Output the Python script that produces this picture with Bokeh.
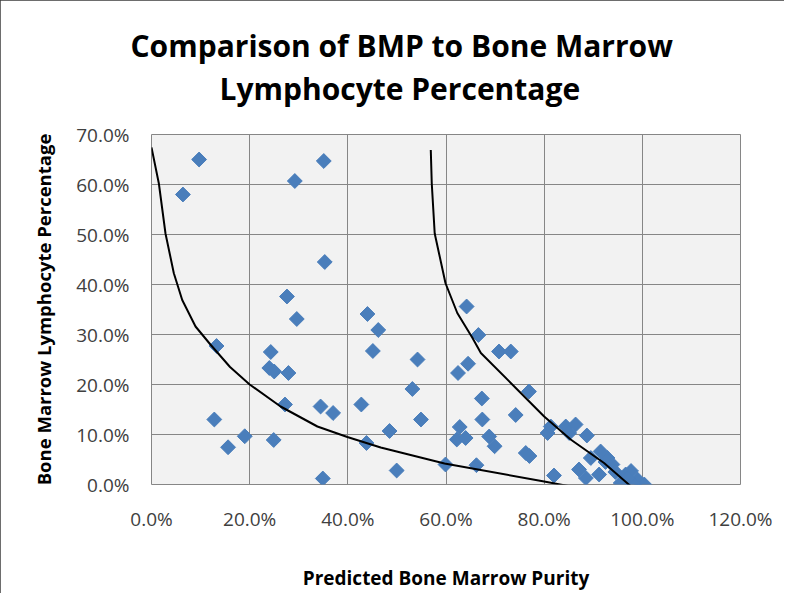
from bokeh.plotting import figure
from bokeh.models import (ColumnDataSource, NumeralTickFormatter, FixedTicker,
                          Title, Range1d)
from bokeh.embed import file_html
from bokeh.resources import INLINE

# ---------------- data ----------------
predicted_purity = [
    0.097, 0.064, 0.351, 0.292, 0.353, 0.276, 0.296, 0.440, 0.462, 0.451,
    0.1325, 0.243, 0.240, 0.250, 0.279, 0.272, 0.3445, 0.370, 0.4275, 0.128,
    0.190, 0.156, 0.249, 0.438, 0.349, 0.485, 0.4995, 0.542, 0.5315, 0.549,
    0.599, 0.642, 0.666, 0.708, 0.732, 0.645, 0.6245, 0.673, 0.674, 0.742,
    0.628, 0.622, 0.640, 0.688, 0.699, 0.662, 0.769, 0.7625, 0.770, 0.807,
    0.8135, 0.844, 0.864, 0.851, 0.887, 0.820, 0.871, 0.885, 0.895, 0.915,
    0.929, 0.939, 0.912, 0.966, 0.977, 0.990, 1.004, 0.956, 0.983, 0.925,
    0.945, 0.970,
]
lymphocyte_pct = [
    0.650, 0.580, 0.647, 0.607, 0.445, 0.376, 0.331, 0.341, 0.309, 0.267,
    0.277, 0.265, 0.233, 0.226, 0.223, 0.160, 0.156, 0.143, 0.160, 0.130,
    0.0965, 0.0745, 0.089, 0.083, 0.012, 0.107, 0.028, 0.250, 0.191, 0.130,
    0.040, 0.356, 0.299, 0.266, 0.266, 0.2415, 0.223, 0.172, 0.130, 0.139,
    0.115, 0.090, 0.093, 0.096, 0.0765, 0.0386, 0.186, 0.063, 0.057, 0.103,
    0.116, 0.116, 0.120, 0.103, 0.098, 0.018, 0.030, 0.013, 0.053, 0.066,
    0.053, 0.040, 0.020, 0.020, 0.027, 0.010, 0.000, 0.003, 0.000, 0.045,
    0.025, 0.012,
]

# hand-drawn guide curves
curve_low_x = [0.0, 0.015, 0.0285, 0.0455, 0.0626, 0.0897, 0.12, 0.16, 0.2,
               0.263, 0.338, 0.399, 0.467, 0.597, 0.80, 1.011]
curve_low_y = [0.674, 0.602, 0.502, 0.4225, 0.369, 0.316, 0.28, 0.235, 0.2,
               0.156, 0.116, 0.095, 0.074, 0.042, 0.006, -0.033]
curve_high_x = [0.569, 0.571, 0.577, 0.599, 0.623, 0.654, 0.671, 0.732,
                0.80, 0.854, 0.922, 1.011]
curve_high_y = [0.669, 0.602, 0.502, 0.4025, 0.343, 0.293, 0.263, 0.203,
                0.136, 0.090, 0.043, -0.033]

x_ticks = [0.0, 0.2, 0.4, 0.6, 0.8, 1.0, 1.2]
y_ticks = [0.0, 0.1, 0.2, 0.3, 0.4, 0.5, 0.6, 0.7]

title_lines = ["Comparison of BMP to Bone Marrow", "Lymphocyte Percentage"]
x_title = "Predicted Bone Marrow Purity"
y_title = "Bone Marrow Lymphocyte Percentage"

FONT = "Open Sans"
GRID = "#868686"
BLUE = "#4A7EBB"

p = figure(width=784, height=593,
           x_range=Range1d(0, 1.2), y_range=Range1d(0, 0.7),
           output_backend="svg", toolbar_location=None,
           min_border_left=151, min_border_right=44,
           min_border_top=134, min_border_bottom=108)
p.styles = {"outline": "3px solid #3c3c3c", "outline-offset": "-3px"}

p.background_fill_color = "#F2F2F2"
p.border_fill_color = "white"
p.outline_line_color = GRID
p.outline_line_width = 1

# chart title: two lines; first line outermost, then second line, then a gap
p.add_layout(Title(text=" ", text_font=FONT, text_font_size="10px",
                   standoff=10), "above")
p.add_layout(Title(text=title_lines[1], align="left", offset=68,
                   standoff=0, text_font=FONT, text_font_size="30px",
                   text_font_style="bold", text_color="black"), "above")
p.title.text = title_lines[0]
p.title.align = "left"
p.title.offset = -21
p.title.standoff = 0
p.title.text_font = FONT
p.title.text_font_size = "30px"
p.title.text_font_style = "bold"
p.title.text_color = "black"

for ax in (p.xaxis[0], p.yaxis[0]):
    ax.formatter = NumeralTickFormatter(format="0.0%")
    ax.major_tick_line_color = None
    ax.minor_tick_line_color = None
    ax.major_tick_out = 0
    ax.major_tick_in = 0
    ax.minor_tick_out = 0
    ax.minor_tick_in = 0
    ax.axis_line_color = None
    ax.major_label_text_font = FONT
    ax.major_label_text_font_size = "19px"
    ax.major_label_text_color = "#404040"
    ax.axis_label_text_font = FONT
    ax.axis_label_text_font_style = "bold"
    ax.axis_label_text_color = "black"

p.xaxis[0].axis_label_text_font_size = "19px"
p.yaxis[0].axis_label_text_font_size = "18.5px"
p.xaxis[0].ticker = FixedTicker(ticks=x_ticks)
p.yaxis[0].ticker = FixedTicker(ticks=y_ticks)
p.xaxis[0].major_label_standoff = 21
p.yaxis[0].major_label_standoff = 22
p.xaxis[0].axis_label = x_title
p.yaxis[0].axis_label = y_title
p.xaxis[0].axis_label_standoff = 30
p.yaxis[0].axis_label_standoff = 17

p.xgrid.grid_line_color = GRID
p.ygrid.grid_line_color = GRID
p.xgrid.ticker = FixedTicker(ticks=x_ticks)
p.ygrid.ticker = FixedTicker(ticks=y_ticks)

src = ColumnDataSource(dict(x=predicted_purity, y=lymphocyte_pct))
p.scatter("x", "y", source=src, marker="square", size=10.5, angle=0.785398,
          fill_color=BLUE, line_color=BLUE)

for cx, cy in ((curve_low_x, curve_low_y), (curve_high_x, curve_high_y)):
    p.line(cx, cy, line_color="black", line_width=2)

open("out.html", "w").write(file_html(p, INLINE))
